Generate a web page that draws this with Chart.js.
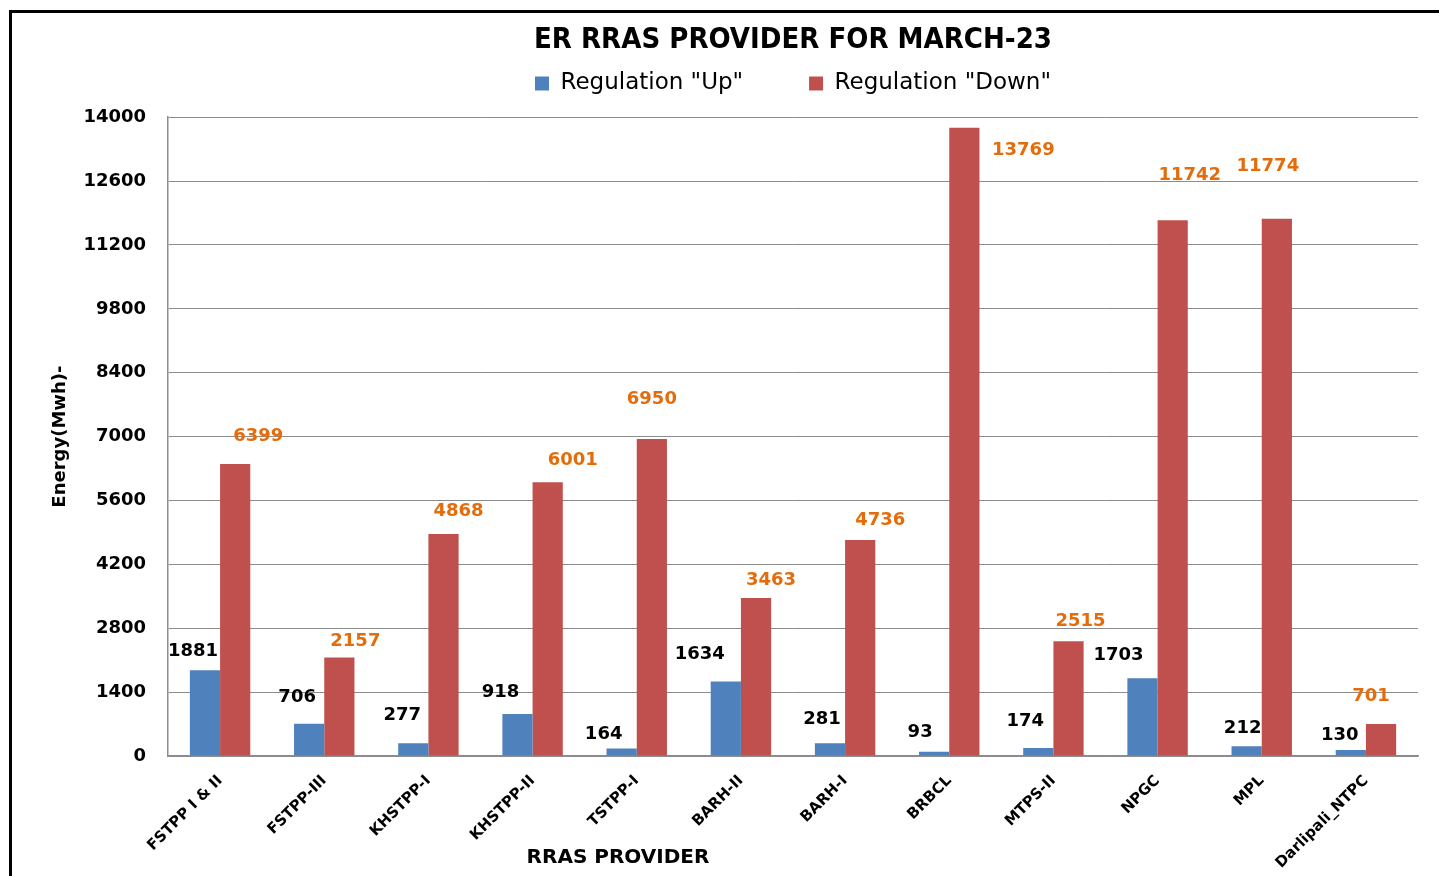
<!DOCTYPE html>
<html lang="en">
<head>
  <meta charset="UTF-8">
  <title>ER RRAS Provider for March-23</title>
  <script src="https://cdn.jsdelivr.net/npm/chart.js"></script>
  <style>
    html, body { margin: 0; padding: 0; background: #fff; overflow: hidden; }
    .frame { position: absolute; left: 9px; top: 10px; width: 1600px; height: 1000px; border: 3px solid #000; }
    #wrap { position: absolute; left: 0; top: 0; width: 1439px; height: 876px; }
  </style>
</head>
<body>
  <div class="frame"></div>
  <div id="wrap"><canvas id="rras" width="1439" height="876"></canvas></div>
  <script>
    const providers = ['FSTPP I & II', 'FSTPP-III', 'KHSTPP-I', 'KHSTPP-II', 'TSTPP-I', 'BARH-II',
      'BARH-I', 'BRBCL', 'MTPS-II', 'NPGC', 'MPL', 'Darlipali_NTPC'];
    const regUp = [1881, 706, 277, 918, 164, 1634, 281, 93, 174, 1703, 212, 130];
    const regDown = [6399, 2157, 4868, 6001, 6950, 3463, 4736, 13769, 2515, 11742, 11774, 701];

    // label nudges (px) relative to the top centre of each bar, as Excel placed them
    const upNudgeX = [-12, -12, -11, -17, -18, -26, -8, -14, -13, -24, -4, -11];
    const upNudgeY = [-19, -26, -28, -22, -14, -27, -24, -19, -27, -23, -18, -15];
    const downNudgeX = [23, 16, 15, 25, 0, 15, 20, 59, 12, 17, -9, -10];
    const downNudgeY = [-28, -16, -23, -22, -40, -18, -20, 23, -20, -45, -52, -28];

    const labelColors = ['#000000', '#E46C0A'];
    const nudges = [[upNudgeX, upNudgeY], [downNudgeX, downNudgeY]];

    const valueLabels = {
      id: 'valueLabels',
      afterDatasetsDraw(chart) {
        const ctx = chart.ctx;
        ctx.save();
        ctx.font = 'bold 18px "DejaVu Sans"';
        ctx.textAlign = 'center';
        ctx.textBaseline = 'middle';
        chart.data.datasets.forEach((ds, di) => {
          const meta = chart.getDatasetMeta(di);
          ctx.fillStyle = labelColors[di];
          meta.data.forEach((bar, i) => {
            ctx.fillText(String(ds.data[i]), bar.x + nudges[di][0][i], bar.y + nudges[di][1][i]);
          });
        });
        // x axis title sits left of centre in the original
        const a = chart.chartArea;
        ctx.font = 'bold 20px "DejaVu Sans"';
        ctx.fillStyle = '#000';
        ctx.fillText('RRAS PROVIDER', a.left + (a.right - a.left) * 0.36, 858);
        ctx.restore();
      }
    };

    new Chart(document.getElementById('rras'), {
      type: 'bar',
      data: {
        labels: providers,
        datasets: [
          { label: 'Regulation "Up"', data: regUp, backgroundColor: '#4F81BD' },
          { label: 'Regulation "Down"', data: regDown, backgroundColor: '#C0504D' }
        ]
      },
      options: {
        responsive: false,
        animation: false,
        categoryPercentage: 0.58,
        barPercentage: 1.0,
        layout: { padding: { left: 10, right: 21, top: 10, bottom: 0 } },
        plugins: {
          title: {
            display: true,
            fullSize: false,
            text: 'ER RRAS PROVIDER FOR MARCH-23',
            color: '#000',
            font: { family: '"DejaVu Sans Condensed", "DejaVu Sans"', size: 29, weight: 'bold', lineHeight: 1.0 },
            padding: { top: 16, bottom: -5 }
          },
          // empty spacer between legend and plot
          subtitle: {
            display: true,
            fullSize: false,
            weight: 500,
            text: '',
            font: { size: 1 },
            padding: { top: 0, bottom: 11 }
          },
          legend: {
            display: true,
            fullSize: false,
            position: 'top',
            labels: {
              color: '#000',
              font: { family: '"DejaVu Sans"', size: 23 },
              boxWidth: 14,
              boxHeight: 14,
              padding: 22,
              generateLabels(chart) {
                const items = Chart.defaults.plugins.legend.labels.generateLabels(chart);
                // widen the gap between the two entries
                items[0].text = items[0].text + '\u00a0'.repeat(6);
                return items;
              }
            }
          },
          tooltip: { enabled: false }
        },
        scales: {
          x: {
            grid: { display: false },
            border: { display: true, color: '#8c8c8c', width: 1.5 },
            ticks: {
              color: '#000',
              font: { family: '"DejaVu Sans"', size: 15, weight: 'bold' },
              minRotation: 45,
              maxRotation: 45,
              padding: 8
            },
            afterFit(scale) { scale.height = 120; }
          },
          y: {
            min: 0,
            max: 14000,
            grid: { color: '#8c8c8c', lineWidth: 1, drawTicks: false },
            border: { display: true, color: '#8c8c8c', width: 1.5 },
            ticks: {
              stepSize: 1400,
              color: '#000',
              padding: 22,
              font: { family: '"DejaVu Sans"', size: 18, weight: 'bold' },
              callback: v => String(v)
            },
            title: {
              display: true,
              text: 'Energy(Mwh)-',
              color: '#000',
              font: { family: '"DejaVu Sans"', size: 18, weight: 'bold' },
              padding: { top: 40, bottom: 0 }
            },
            afterFit(scale) { scale.width = 158; }
          }
        }
      },
      plugins: [valueLabels]
    });
  </script>
</body>
</html>
